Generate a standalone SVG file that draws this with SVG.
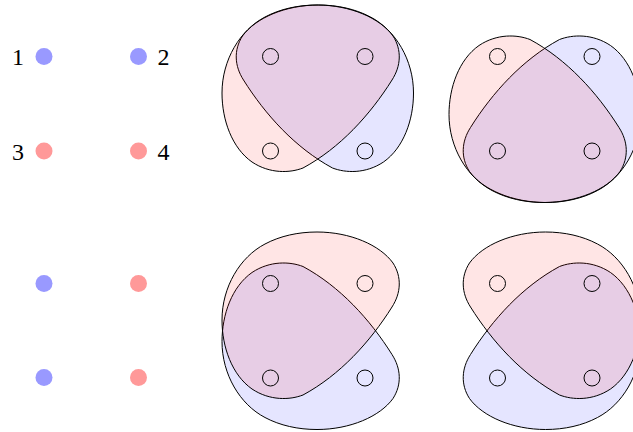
<svg xmlns="http://www.w3.org/2000/svg" width="633" height="432" viewBox="0 0 633 432">
<style>
.lbl{font-family:"Liberation Serif","DejaVu Serif",serif;font-size:24px;fill:#000;text-anchor:middle}
.b{fill:#9999ff}
.r{fill:#ff9999}
.ring{fill:none;stroke:#000;stroke-width:1}
.rb{fill:#ff0000;fill-opacity:0.1;stroke:#000;stroke-width:1}
.bb{fill:#0000ff;fill-opacity:0.1;stroke:#000;stroke-width:1}
</style>
<defs>
<path id="S" d="M317,5 C350,5 380,18 393,36 C402,50 401,66 392,80 C370,115 340,148 303,168 C290,173 270,174 252,162 C232,148 222,120 222,93 C222,60 240,30 265,17 C280,9 298,5 317,5 Z"/>
<g id="rings">
<circle class="ring" cx="270.5" cy="56.5" r="8"/>
<circle class="ring" cx="365" cy="56.5" r="8"/>
<circle class="ring" cx="270.5" cy="151" r="8"/>
<circle class="ring" cx="365" cy="151" r="8"/>
</g>
</defs>
<g id="n1"><text class="lbl" x="18" y="65">1</text><circle class="b" cx="44" cy="56.5" r="8.5"/></g>
<g id="n2"><text class="lbl" x="163.5" y="65">2</text><circle class="b" cx="138.5" cy="56.5" r="8.5"/></g>
<g id="n3"><text class="lbl" x="18" y="159.5">3</text><circle class="r" cx="44" cy="151" r="8.5"/></g>
<g id="n4"><text class="lbl" x="163.5" y="159.5">4</text><circle class="r" cx="138.5" cy="151" r="8.5"/></g>
<g id="n5"><circle class="b" cx="44" cy="283.5" r="8.5"/></g>
<g id="n6"><circle class="r" cx="138.5" cy="283.5" r="8.5"/></g>
<g id="n7"><circle class="b" cx="44" cy="377.5" r="8.5"/></g>
<g id="n8"><circle class="r" cx="138.5" cy="377.5" r="8.5"/></g>
<g id="panel-tl">
<use href="#S" class="bb" transform="matrix(-1,0,0,1,635.5,0)"/>
<use href="#S" class="rb"/>
<use href="#rings"/>
</g>
<g id="panel-tr">
<use href="#S" class="bb" transform="matrix(-1,0,0,-1,862.5,207.5)"/>
<use href="#S" class="rb" transform="matrix(1,0,0,-1,227,207.5)"/>
<use href="#rings" transform="translate(227,0)"/>
</g>
<g id="panel-bl">
<use href="#S" class="bb" transform="matrix(1,0,0,-1,0,434.5)"/>
<use href="#S" class="rb" transform="translate(0,227)"/>
<use href="#rings" transform="translate(0,227)"/>
</g>
<g id="panel-br">
<use href="#S" class="bb" transform="matrix(-1,0,0,-1,862.5,434.5)"/>
<use href="#S" class="rb" transform="matrix(-1,0,0,1,862.5,227)"/>
<use href="#rings" transform="translate(227,227)"/>
</g>
<g id="connectors"/>
</svg>
